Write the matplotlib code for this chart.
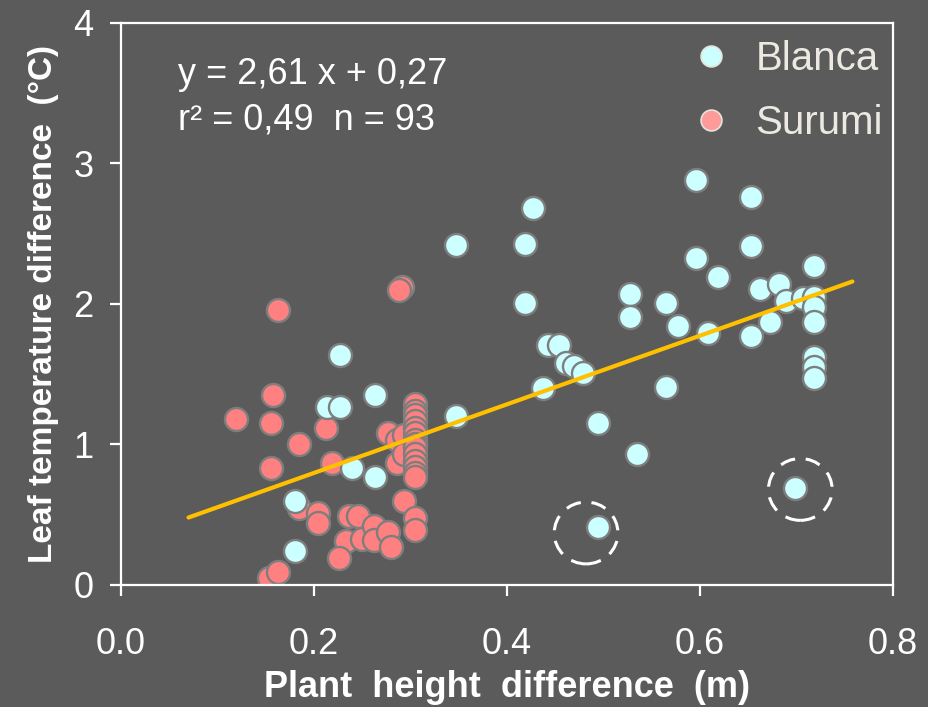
import numpy as np
import matplotlib
matplotlib.use('Agg')
import matplotlib.pyplot as plt
from matplotlib.lines import Line2D
from matplotlib.patches import Ellipse

# Blanca (cyan) points
blanca_x = [0.347, 0.427, 0.419, 0.419, 0.443, 0.454, 0.461, 0.469, 0.479, 0.437,
            0.347, 0.494, 0.535, 0.494, 0.527, 0.527, 0.596, 0.653, 0.653, 0.596,
            0.619, 0.565, 0.577, 0.608, 0.565, 0.662, 0.682, 0.689, 0.707, 0.718,
            0.718, 0.718, 0.718, 0.673, 0.653, 0.718, 0.718, 0.718, 0.699, 0.227,
            0.214, 0.227, 0.263, 0.239, 0.263, 0.180, 0.180]
blanca_y = [2.42, 2.68, 2.43, 2.01, 1.71, 1.71, 1.58, 1.56, 1.51, 1.40,
            1.20, 1.15, 0.93, 0.41, 2.07, 1.91, 2.88, 2.76, 2.41, 2.33,
            2.19, 2.01, 1.84, 1.79, 1.41, 2.11, 2.14, 2.02, 2.04, 2.27,
            2.05, 1.98, 1.87, 1.87, 1.77, 1.62, 1.55, 1.47, 0.69, 1.64,
            1.27, 1.27, 1.35, 0.83, 0.77, 0.60, 0.24]

# Surumi (salmon) points
surumi_x = [0.291, 0.288, 0.163, 0.158, 0.119, 0.155, 0.212, 0.185, 0.155, 0.219,
            0.185, 0.204, 0.204, 0.236, 0.246, 0.233, 0.226, 0.250, 0.262, 0.262,
            0.277, 0.280, 0.293, 0.305, 0.305, 0.153, 0.163, 0.277, 0.286, 0.293,
            0.286, 0.293, 0.305, 0.305, 0.305, 0.305, 0.305, 0.305, 0.305, 0.305,
            0.305, 0.305, 0.305, 0.305, 0.305, 0.305]
surumi_y = [2.12, 2.10, 1.96, 1.35, 1.18, 1.15, 1.12, 1.00, 0.83, 0.87,
            0.55, 0.51, 0.44, 0.49, 0.49, 0.31, 0.19, 0.33, 0.42, 0.32,
            0.38, 0.27, 0.60, 0.48, 0.39, 0.05, 0.09, 1.08, 1.03, 1.07,
            0.87, 0.93, 1.29, 1.24, 1.21, 1.17, 1.12, 1.08, 1.03, 1.00,
            0.98, 0.93, 0.88, 0.84, 0.80, 0.77]

# regression line end points as drawn
fit_x = [0.070, 0.758]
fit_y = [0.48, 2.16]

# circled outliers
circled_x = [0.482, 0.704]
circled_y = [0.37, 0.68]

bg = '#5b5b5b'
plt.rcParams['font.family'] = ['Liberation Sans', 'DejaVu Sans']

fig = plt.figure(figsize=(9.29, 7.07), dpi=100, facecolor=bg)
ax = fig.add_axes([0.1302, 0.1726, 0.8310, 0.7949], facecolor=bg)

ax.scatter(surumi_x, surumi_y, s=275, c='#ff8080', edgecolors='#7e7e7e', linewidths=1.7, zorder=2)
ax.scatter(blanca_x, blanca_y, s=275, c='#ccffff', edgecolors='#7e7e7e', linewidths=1.7, zorder=3)
ax.plot(fit_x, fit_y, color='#ffc000', lw=3.0, solid_capstyle='round', zorder=4)

for cx, cy in zip(circled_x, circled_y):
    ax.add_patch(Ellipse((cx, cy), 0.066, 0.44, fill=False, edgecolor='white',
                         lw=2.2, linestyle=(0, (5, 3.5)), zorder=5))

ax.text(0.059, 3.63, 'y = 2,61 x + 0,27', fontsize=26, color='white', va='center', ha='left')
ax.text(0.059, 3.31, 'r² = 0,49  n = 93', fontsize=26, color='white', va='center', ha='left')

handles = [Line2D([], [], ls='none', marker='o', ms=15, mfc='#ccffff', mec='#e4e4dc', mew=1.2),
           Line2D([], [], ls='none', marker='o', ms=15, mfc='#ff9a9a', mec='#e4e4dc', mew=1.2)]
leg = ax.legend(handles, ['Blanca', 'Surumi'], loc='upper right', bbox_to_anchor=(1.0, 0.988),
                frameon=False, fontsize=29, labelcolor='#ebe9e2', handlelength=0.8,
                handletextpad=0.7, labelspacing=0.65, borderaxespad=0.0, borderpad=0.25)

ax.set_xlim(0, 0.8)
ax.set_ylim(0, 4)
ax.set_xticks([0.0, 0.2, 0.4, 0.6, 0.8])
ax.set_xticklabels(['0.0', '0.2', '0.4', '0.6', '0.8'])
ax.set_yticks([0, 1, 2, 3, 4])

for sp in ax.spines.values():
    sp.set_color('white')
    sp.set_linewidth(1.6)
ax.tick_params(axis='both', colors='white', labelsize=26, width=1.6, direction='out')
ax.tick_params(axis='x', length=8, pad=22)
ax.tick_params(axis='y', length=8, pad=12)

ax.set_xlabel('Plant  height  difference  (m)', fontsize=26, fontweight='bold', color='white', labelpad=6)
ax.set_ylabel('Leaf temperature difference  (°C)', fontsize=24, fontweight='bold', color='white', labelpad=10)

fig.savefig('out.png', dpi=100, facecolor=bg)
